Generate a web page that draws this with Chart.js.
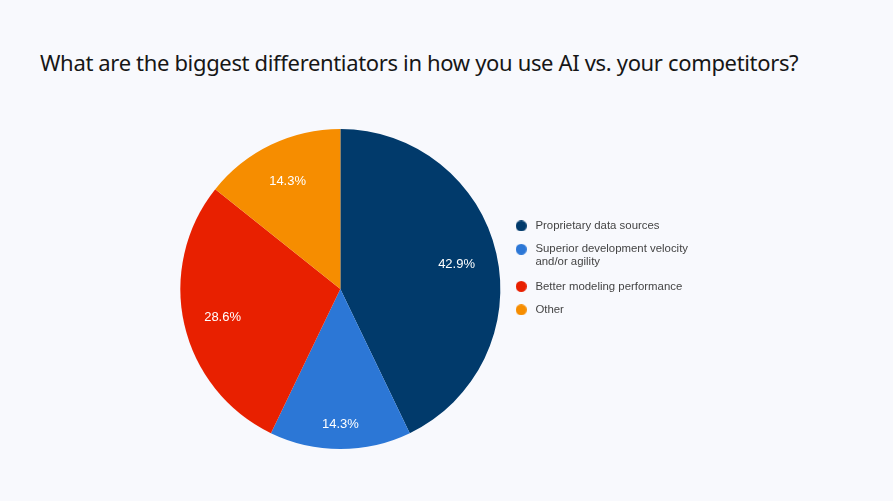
<!DOCTYPE html>
<html>
<head>
<meta charset="utf-8">
<script src="https://cdn.jsdelivr.net/npm/chart.js@4/dist/chart.umd.min.js"></script>
<style>
  html, body { margin: 0; padding: 0; background: #f8f9fd; }
  #wrap { position: relative; width: 893px; height: 501px; }
  #title {
    position: absolute; left: 40px; top: 47px; margin: 0;
    font-family: "Noto Sans", sans-serif; font-weight: 400; font-size: 22px;
    letter-spacing: -0.34px; color: #161616; white-space: nowrap;
  }
  #chartContainer { position: absolute; left: 0; top: 0; }
</style>
</head>
<body>
<div id="wrap">
  <h1 id="title">What are the biggest differentiators in how you use AI vs. your competitors?</h1>
  <canvas id="chartContainer" width="893" height="501"></canvas>
</div>
<script>
// answers, in drawing order (clockwise from 12 o'clock)
const categories = [
    'Proprietary data sources',
    ['Superior development velocity', 'and/or agility'],
    'Better modeling performance',
    'Other'
];
// share of respondents, %
const shares = [42.9, 14.3, 28.6, 14.3];

const sliceColors = ['#013a6b', '#2c77d6', '#e82000', '#f68d00'];
// how far out (fraction of the radius) each percent label sits
const labelRadius = [0.745, 0.835, 0.755, 0.76];

// small round markers for the legend
function dot(color) {
    let c = document.createElement('canvas');
    c.width = 11;
    c.height = 11;
    let g = c.getContext('2d');
    g.fillStyle = color;
    g.beginPath();
    g.arc(5.5, 5.5, 5.5, 0, Math.PI * 2);
    g.fill();
    return c;
}
const dots = sliceColors.map(dot);

// percent text inside each slice
const percentLabels = {
    id: 'percentLabels',
    afterDatasetsDraw(chart) {
        let ctx = chart.ctx;
        let meta = chart.getDatasetMeta(0);
        ctx.save();
        ctx.font = '13px "Liberation Sans", Arial, sans-serif';
        ctx.fillStyle = '#ffffff';
        ctx.textAlign = 'center';
        ctx.textBaseline = 'middle';
        meta.data.forEach((arc, i) => {
            let p = arc.getProps(['x', 'y', 'startAngle', 'endAngle', 'outerRadius'], true);
            let mid = (p.startAngle + p.endAngle) / 2;
            let r = p.outerRadius * labelRadius[i];
            ctx.fillText(shares[i].toFixed(1) + '%', p.x + Math.cos(mid) * r, p.y + Math.sin(mid) * r + 1.5);
        });
        ctx.restore();
    }
};

let chartContainer = document.getElementById('chartContainer');
let chart = new Chart(chartContainer, {
    type: 'pie',
    data: {
        labels: categories,
        datasets: [{
            data: shares,
            backgroundColor: sliceColors,
            borderWidth: 0
        }]
    },
    options: {
        responsive: false,
        animation: false,
        layout: {
            padding: { top: 129, bottom: 52, left: 180, right: 195 }
        },
        plugins: {
            tooltip: { enabled: false },
            legend: {
                position: 'right',
                align: 'start',
                title: { display: true, text: '', padding: { top: 78, bottom: 0 }, font: { size: 1 } },
                labels: {
                    usePointStyle: true,
                    pointStyleWidth: 17,
                    padding: 12,
                    color: '#444444',
                    font: { family: '"Liberation Sans", Arial, sans-serif', size: 11.4, lineHeight: 1.1 },
                    generateLabels(chart) {
                        let items = Chart.overrides.pie.plugins.legend.labels.generateLabels(chart);
                        items.forEach((item, i) => { item.pointStyle = dots[i]; });
                        return items;
                    }
                },
                onClick: () => {}
            }
        }
    },
    plugins: [percentLabels]
});
</script>
</body>
</html>
